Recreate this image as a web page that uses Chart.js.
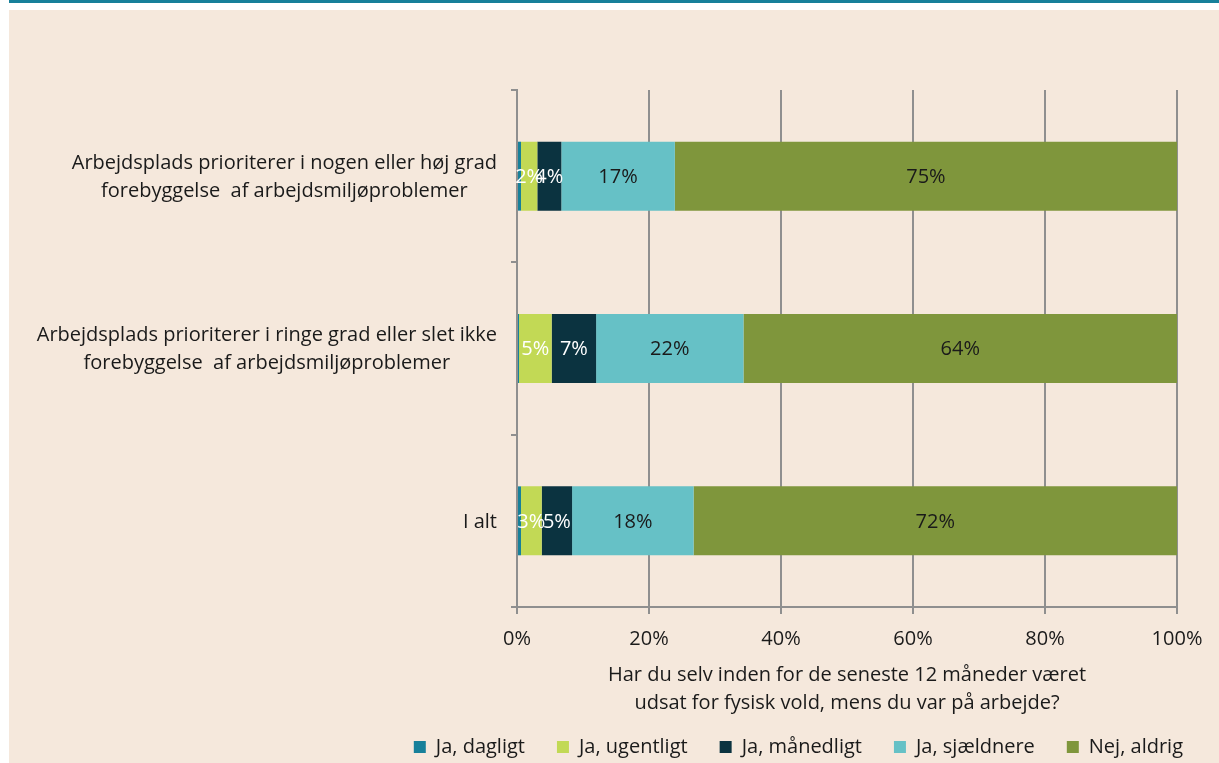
<!DOCTYPE html>
<html lang="da">
<head>
<meta charset="UTF-8">
<title>Fysisk vold</title>
<style>
  body { margin: 0; background: #ffffff; }
  #topline { position: absolute; left: 9px; top: 0; width: 1210px; height: 3px; background: #17809a; }
  #panel { position: absolute; left: 9px; top: 10px; width: 1210px; height: 753px; background: #f5e8dc; }
  #myChart { position: absolute; left: 0; top: 0; }
</style>
</head>
<body>
<div id="topline"></div>
<div id="panel"></div>
<canvas id="myChart" width="1219" height="763"></canvas>

<script src="https://cdn.jsdelivr.net/npm/chart.js"></script>
<script>
// kategorier (to linjer pr. label)
const kategorier = [
    ['Arbejdsplads prioriterer i nogen eller høj grad', 'forebyggelse  af arbejdsmiljøproblemer'],
    ['Arbejdsplads prioriterer i ringe grad eller slet ikke', 'forebyggelse  af arbejdsmiljøproblemer'],
    ['I alt']
]
const serier = ['Ja, dagligt', 'Ja, ugentligt', 'Ja, månedligt', 'Ja, sjældnere', 'Nej, aldrig']

// procenter som vist i labels (summer ikke helt til 100)
const dagligt    = [0.6, 0.3, 0.6]
const ugentligt  = [2.45, 4.85, 3.1]
const maanedligt = [3.6, 6.6, 4.55]
const sjaeldnere = [17.05, 21.9, 18.2]
const aldrig     = [75.4, 64.4, 72.4]

const xTicks = [0, 20, 40, 60, 80, 100]
const xTitel = ['Har du selv inden for de seneste 12 måneder været', 'udsat for fysisk vold, mens du var på arbejde?']

const farver = ['#17809a', '#c2d955', '#0b3340', '#66c1c6', '#7f963c']
const tekstfarver = [null, '#ffffff', '#ffffff', '#1a1a1a', '#1a1a1a']
const FONT = '"Open Sans"'

const raa = [dagligt, ugentligt, maanedligt, sjaeldnere, aldrig]
const total = kategorier.map((k, i) => raa.reduce((s, arr) => s + arr[i], 0))

// 100% stablet: normaliser hver kategori
const datasets = raa.map((arr, d) => ({
    label: serier[d],
    data: arr.map((v, i) => v / total[i] * 100),
    raw: arr,
    backgroundColor: farver[d],
    borderWidth: 0,
    categoryPercentage: 0.4,
    barPercentage: 1
}))

// datalabels midt i hvert segment
const vaerdiLabels = {
    id: 'vaerdiLabels',
    afterDatasetsDraw(chart) {
        const ctx = chart.ctx
        ctx.save()
        ctx.font = '20px ' + FONT
        ctx.textAlign = 'center'
        ctx.textBaseline = 'middle'
        chart.data.datasets.forEach((ds, d) => {
            if (!tekstfarver[d]) return
            const meta = chart.getDatasetMeta(d)
            meta.data.forEach((bar, i) => {
                ctx.fillStyle = tekstfarver[d]
                ctx.fillText(Math.round(ds.raw[i]) + '%', (bar.x + bar.base) / 2, bar.y + 1)
            })
        })
        ctx.restore()
    }
}

// kategori-labels: linjer centreret indbyrdes, blok højrejusteret mod aksen
const kategoriLabels = {
    id: 'kategoriLabels',
    afterDraw(chart) {
        const ctx = chart.ctx
        const y = chart.scales.y
        ctx.save()
        ctx.font = '20px ' + FONT
        ctx.fillStyle = '#1a1a1a'
        ctx.textAlign = 'center'
        ctx.textBaseline = 'middle'
        const hoejre = chart.chartArea.left - 20
        kategorier.forEach((lines, i) => {
            const py = y.getPixelForTick(i)
            const maxW = Math.max(...lines.map(l => ctx.measureText(l).width))
            const cx = hoejre - maxW / 2
            const lh = 28
            lines.forEach((l, j) => {
                ctx.fillText(l, cx, py + (j - (lines.length - 1) / 2) * lh + 1)
            })
        })
        ctx.restore()
    }
}

// flyt legenden så den slutter ved samme sted som i originalen
const legendeFlyt = {
    id: 'legendeFlyt',
    afterLayout(chart) {
        const lg = chart.legend
        const d = 1215 - lg.right
        lg.left += d
        lg.right += d
    }
}

const ctx = document.getElementById('myChart')
const myChart = new Chart(ctx, {
    type: 'bar',
    data: {
        labels: kategorier.map(k => k.join(' ')),
        datasets: datasets
    },
    options: {
        indexAxis: 'y',
        responsive: false,
        animation: false,
        layout: { padding: { top: 90, right: 42, left: 0, bottom: -4 } },
        scales: {
            x: {
                stacked: true,
                min: 0,
                max: 100,
                afterBuildTicks: (scale) => { scale.ticks = xTicks.map(v => ({ value: v })) },
                ticks: {
                    callback: v => v + '%',
                    color: '#1a1a1a',
                    font: { family: FONT, size: 20 },
                    padding: 13
                },
                grid: { color: '#8f8f8f', lineWidth: 2, tickLength: 7 },
                border: { color: '#8f8f8f', width: 2 },
                title: {
                    display: true,
                    text: xTitel,
                    color: '#1a1a1a',
                    font: { family: FONT, size: 20, lineHeight: 1.4 },
                    padding: { top: -3, bottom: -12 }
                }
            },
            y: {
                stacked: true,
                afterFit: (scale) => { scale.width = 517 },
                ticks: { display: false },
                grid: { drawOnChartArea: false, color: '#8f8f8f', lineWidth: 2, tickLength: 6 },
                border: { color: '#8f8f8f', width: 2 }
            }
        },
        plugins: {
            legend: {
                position: 'bottom',
                align: 'end',
                labels: {
                    boxWidth: 12,
                    boxHeight: 12,
                    padding: 32,
                    color: '#1a1a1a',
                    font: { family: FONT, size: 20 }
                }
            },
            tooltip: { enabled: false }
        }
    },
    plugins: [vaerdiLabels, kategoriLabels, legendeFlyt]
})
</script>
</body>
</html>
